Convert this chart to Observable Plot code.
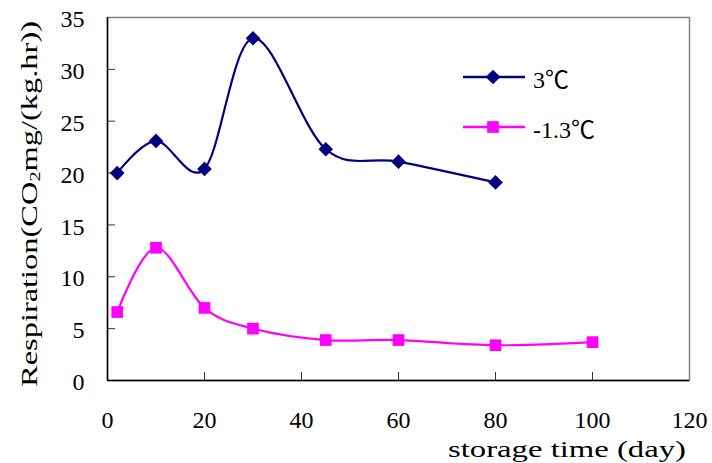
<!DOCTYPE html>
<html>
<head>
<meta charset="utf-8">
<script src="https://cdn.jsdelivr.net/npm/d3@7"></script>
<script src="https://cdn.jsdelivr.net/npm/@observablehq/plot@0.6"></script>
<style>
  html, body { margin: 0; padding: 0; background: #fff; }
  #wrap { position: relative; width: 712px; height: 463px; }
  #legend { position: absolute; left: 462px; top: 52px; font-size: 24px; color: #000; }
  .row { display: flex; align-items: center; height: 50px; }
  .row span { margin-left: 7px; }
</style>
</head>
<body>
<div id="wrap"><div id="legend"></div></div>
<script>
// ---- data ----
const seriesNames = ["3℃", "-1.3℃"];
const seriesColors = ["#000080", "#FF00FF"];
const seriesSymbols = ["diamond2", "square"];
const days3 = [2, 10, 20, 30, 45, 60, 80];
const resp3 = [20.0, 23.1, 20.4, 33.0, 22.3, 21.1, 19.1];
const daysM = [2, 10, 20, 30, 45, 60, 80, 100];
const respM = [6.6, 12.8, 7.0, 5.0, 3.9, 3.9, 3.4, 3.7];
const xTicks = [0, 20, 40, 60, 80, 100, 120];
const yTicks = [0, 5, 10, 15, 20, 25, 30, 35];
const xLabel = "storage time (day)";
const yLabelParts = ["Respiration(CO", "2", "mg/(kg.hr))"];

const data = [
  ...days3.map((d, i) => ({day: d, resp: resp3[i], s: seriesNames[0]})),
  ...daysM.map((d, i) => ({day: d, resp: respM[i], s: seriesNames[1]}))
];

const font = "'Liberation Serif', 'Noto Sans CJK SC', serif";
const W = 712, H = 463, mL = 107, mR = 23, mT = 17, mB = 83;
const frameW = W - mL - mR, frameH = H - mT - mB;

const plot = Plot.plot({
  width: W, height: H,
  marginLeft: mL, marginRight: mR, marginTop: mT, marginBottom: mB,
  style: {fontSize: "24px", background: "transparent", overflow: "visible"},
  x: {domain: [0, 120], ticks: xTicks},
  y: {domain: [0, 35], ticks: yTicks},
  color: {domain: seriesNames, range: seriesColors},
  symbol: {domain: seriesNames, range: seriesSymbols},
  marks: [
    Plot.frame({stroke: "#808080", strokeWidth: 1.5}),
    Plot.tickY(yTicks.slice(1, -1), {y: d => d, stroke: "#333", insetRight: frameW - 8}),
    Plot.tickX(xTicks.slice(1, -1), {x: d => d, stroke: "#333", insetTop: frameH - 8}),
    Plot.ruleY([0], {stroke: "#000", strokeWidth: 1.5}),
    Plot.ruleX([0], {stroke: "#000", strokeWidth: 1.5}),
    Plot.axisY({ticks: yTicks, tickSize: 0, tickPadding: 23, label: null, fill: "#000", dy: 2, fontSize: 24}),
    Plot.axisX({ticks: xTicks, tickSize: 0, tickPadding: 30, label: null, fill: "#000", fontSize: 24}),
    Plot.line(data, {x: "day", y: "resp", z: "s", stroke: "s", strokeWidth: 2.2, curve: "cardinal"}),
    Plot.dot(data, {x: "day", y: "resp", fill: "s", symbol: "s", r: 6.6, stroke: null})
  ]
});
document.getElementById("wrap").prepend(plot);

const svg = d3.select(plot);
svg.style("font-family", font);
svg.selectAll("text").style("font-family", font);

// axis titles
svg.append("text")
  .attr("x", 686).attr("y", 457)
  .attr("text-anchor", "end")
  .style("font-family", font).attr("font-size", 24).attr("fill", "#000")
  .attr("textLength", 238).attr("lengthAdjust", "spacingAndGlyphs")
  .text(xLabel);
const yl = svg.append("text")
  .attr("transform", "translate(37,204) rotate(-90)")
  .attr("text-anchor", "middle")
  .style("font-family", font).attr("font-size", 24).attr("fill", "#000")
  .attr("textLength", 366).attr("lengthAdjust", "spacingAndGlyphs");
yl.append("tspan").text(yLabelParts[0]);
yl.append("tspan").attr("font-size", 15).attr("dy", 3).text(yLabelParts[1]);
yl.append("tspan").attr("dy", -3).text(yLabelParts[2]);

// legend
const legend = d3.select("#legend").style("font-family", font);
seriesNames.forEach((name, i) => {
  const row = legend.append("div").attr("class", "row");
  const s = row.append("svg").attr("width", 64).attr("height", 20);
  s.append("line").attr("x1", 1).attr("x2", 63).attr("y1", 10).attr("y2", 10)
    .attr("stroke", seriesColors[i]).attr("stroke-width", 2.5);
  const sym = seriesSymbols[i] === "diamond2" ? d3.symbolDiamond2 : d3.symbolSquare;
  s.append("path").attr("transform", "translate(31,10)")
    .attr("d", d3.symbol(sym, Math.PI * 6.6 * 6.6)())
    .attr("fill", seriesColors[i]);
  row.append("span").style("font-family", font).text(name);
});
</script>
</body>
</html>
